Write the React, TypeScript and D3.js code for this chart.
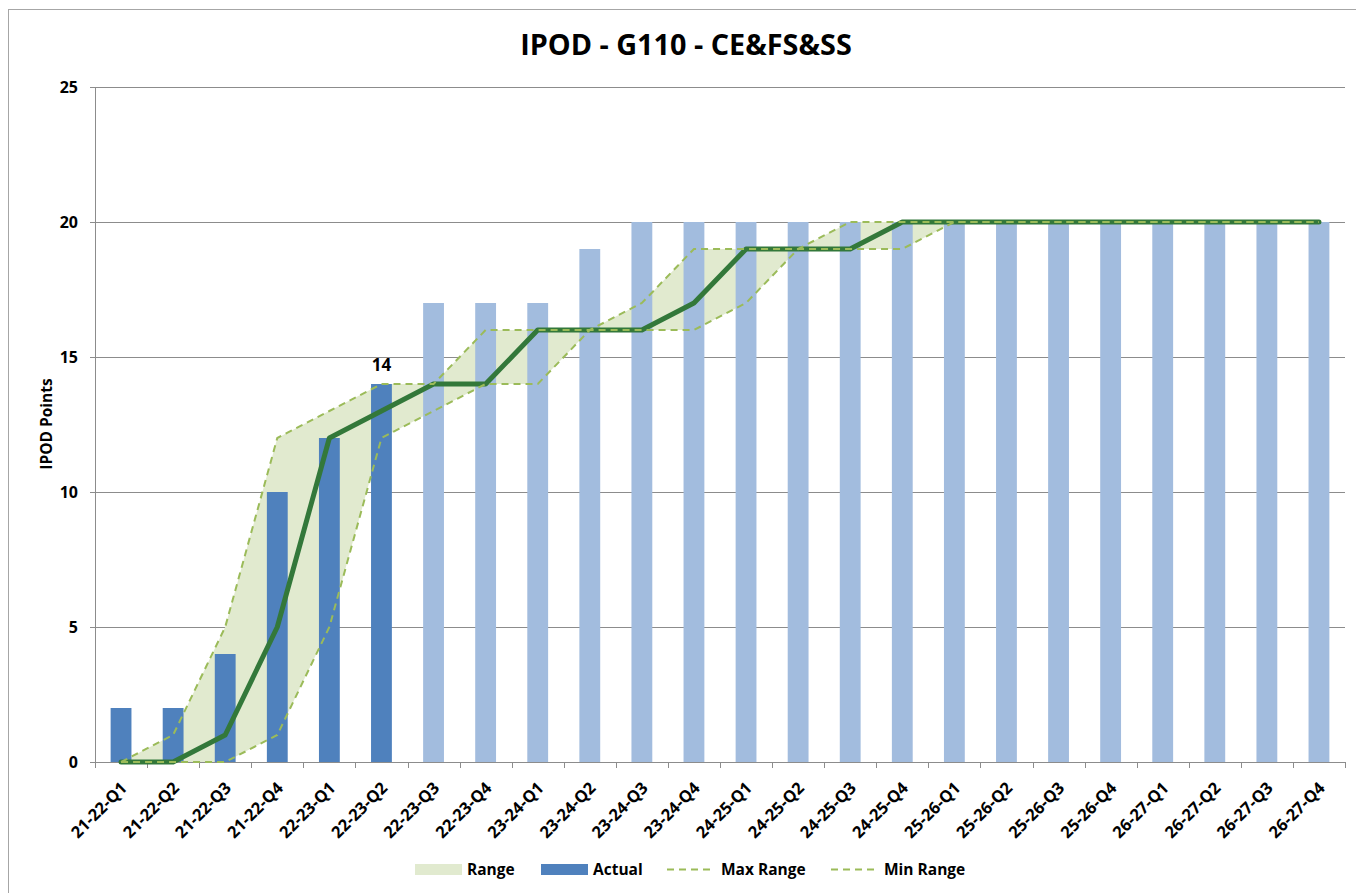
import React from "react";
import * as d3 from "d3";

const categories = [
  "21-22-Q1", "21-22-Q2", "21-22-Q3", "21-22-Q4",
  "22-23-Q1", "22-23-Q2", "22-23-Q3", "22-23-Q4",
  "23-24-Q1", "23-24-Q2", "23-24-Q3", "23-24-Q4",
  "24-25-Q1", "24-25-Q2", "24-25-Q3", "24-25-Q4",
  "25-26-Q1", "25-26-Q2", "25-26-Q3", "25-26-Q4",
  "26-27-Q1", "26-27-Q2", "26-27-Q3", "26-27-Q4",
];
// Actual (dark) bars, then projected (light) bars
const actual = [2, 2, 4, 10, 12, 14];
const projected = [17, 17, 17, 19, 20, 20, 20, 20, 20, 20, 20, 20, 20, 20, 20, 20, 20, 20];
const target = [0, 0, 1, 5, 12, 13, 14, 14, 16, 16, 16, 17, 19, 19, 19, 20, 20, 20, 20, 20, 20, 20, 20, 20];
const maxRange = [0, 1, 5, 12, 13, 14, 14, 16, 16, 16, 17, 19, 19, 19, 20, 20, 20, 20, 20, 20, 20, 20, 20, 20];
const minRange = [0, 0, 0, 1, 5, 12, 13, 14, 14, 16, 16, 16, 17, 19, 19, 19, 20, 20, 20, 20, 20, 20, 20, 20];
const yTicks = [0, 5, 10, 15, 20, 25];
const labelIndex = 5; // data label "14"

const W = 1356;
const H = 893;
const M = { left: 95, right: 1345, top: 87, bottom: 762 };
const FONT = "'Open Sans', Carlito, Lato, sans-serif";

const C = {
  grid: "#8C8C8C",
  actual: "#4F81BD",
  projected: "#A2BCDE",
  area: "#E1EACF",
  dash: "#9BBB59",
  target: "#33783A",
};

export default function App() {
  const x = d3.scaleBand<string>().domain(categories).range([M.left, M.right]).paddingInner(0.6).paddingOuter(0.3);
  const xc = (i: number) => (x(categories[i]) as number) + x.bandwidth() / 2;
  const step = (M.right - M.left) / categories.length;
  const y = d3.scaleLinear().domain([0, 25]).range([M.bottom, M.top]);

  const bars = categories.map((c, i) => {
    const isActual = i < actual.length;
    const v = isActual ? actual[i] : projected[i - actual.length];
    return { c, i, v, isActual };
  });

  const area = d3
    .area<number>()
    .x((_, i) => xc(i))
    .y0((_, i) => y(minRange[i]))
    .y1((_, i) => y(maxRange[i]));
  const line = d3
    .line<number>()
    .x((_, i) => xc(i))
    .y((d) => y(d));

  const legendY = 869;
  const legendFs = 15.5;

  return (
    <div style={{ position: "absolute", left: 0, top: 0 }}>
      <svg width={W} height={H} style={{ display: "block", fontFamily: FONT }}>
        <rect x={0} y={0} width={W} height={H} fill="#fff" />
        <rect x={8.5} y={9.5} width={W + 20} height={H + 20} fill="none" stroke="#A6A6A6" strokeWidth={1} />

        <text x={686} y={55} textAnchor="middle" fontSize={28.8} fontWeight="bold" fill="#000">
          IPOD - G110 - CE&amp;FS&amp;SS
        </text>

        {/* gridlines */}
        {yTicks.map((t) => (
          <g key={t}>
            {t > 0 && (
              <line x1={M.left} x2={M.right} y1={y(t) + 0.5} y2={y(t) + 0.5} stroke={C.grid} strokeWidth={1} />
            )}
            <line x1={M.left - 5} x2={M.left} y1={y(t) + 0.5} y2={y(t) + 0.5} stroke={C.grid} strokeWidth={1} />
            <text x={78} y={y(t)} dy="0.36em" textAnchor="end" fontSize={16} fontWeight="bold" fill="#000">
              {t}
            </text>
          </g>
        ))}

        {/* range area */}
        <path d={area(target) || ""} fill={C.area} stroke="none" />

        {/* bars */}
        {bars.map((b) => (
          <rect
            key={b.c}
            x={x(b.c)}
            y={y(b.v)}
            width={x.bandwidth()}
            height={y(0) - y(b.v)}
            fill={b.isActual ? C.actual : C.projected}
          />
        ))}

        {/* axes */}
        <line x1={M.left + 0.5} x2={M.left + 0.5} y1={M.top} y2={M.bottom} stroke={C.grid} strokeWidth={1} />
        <line x1={M.left} x2={M.right} y1={M.bottom + 0.5} y2={M.bottom + 0.5} stroke={C.grid} strokeWidth={1} />
        {d3.range(categories.length + 1).map((k) => (
          <line
            key={k}
            x1={Math.round(M.left + k * step) + 0.5}
            x2={Math.round(M.left + k * step) + 0.5}
            y1={M.bottom}
            y2={M.bottom + 6}
            stroke={C.grid}
            strokeWidth={1}
          />
        ))}

        {/* target line */}
        <path d={line(target) || ""} fill="none" stroke={C.target} strokeWidth={5} strokeLinejoin="round" strokeLinecap="round" />

        {/* dashed range lines */}
        <path d={line(maxRange) || ""} fill="none" stroke={C.dash} strokeWidth={2} strokeDasharray="7,5" />
        <path d={line(minRange) || ""} fill="none" stroke={C.dash} strokeWidth={2} strokeDasharray="7,5" />

        {/* data label */}
        <text x={xc(labelIndex)} y={371} textAnchor="middle" fontSize={17} fontWeight="bold" fill="#000">
          {actual[labelIndex]}
        </text>

        {/* x labels */}
        {categories.map((c, i) => (
          <text
            key={c}
            transform={`translate(${xc(i) + 7},${789}) rotate(-45)`}
            textAnchor="end"
            fontSize={16.5}
            fontWeight="bold"
            fill="#000"
          >
            {c}
          </text>
        ))}

        {/* y axis title */}
        <text transform={`translate(52,424) rotate(-90)`} textAnchor="middle" fontSize={15.5} fontWeight="bold" fill="#000">
          IPOD Points
        </text>

        {/* legend */}
        <rect x={415} y={legendY - 5} width={47} height={11} fill={C.area} />
        <text x={467} y={legendY} dy="0.36em" fontSize={legendFs} fontWeight="bold">Range</text>
        <rect x={541} y={legendY - 5} width={47} height={11} fill={C.actual} />
        <text x={593} y={legendY} dy="0.36em" fontSize={legendFs} fontWeight="bold">Actual</text>
        <line x1={667} x2={714} y1={legendY + 0.5} y2={legendY + 0.5} stroke={C.dash} strokeWidth={2} strokeDasharray="7,5" />
        <text x={721} y={legendY} dy="0.36em" fontSize={legendFs} fontWeight="bold">Max Range</text>
        <line x1={831} x2={878} y1={legendY + 0.5} y2={legendY + 0.5} stroke={C.dash} strokeWidth={2} strokeDasharray="7,5" />
        <text x={884} y={legendY} dy="0.36em" fontSize={legendFs} fontWeight="bold">Min Range</text>
      </svg>
    </div>
  );
}
